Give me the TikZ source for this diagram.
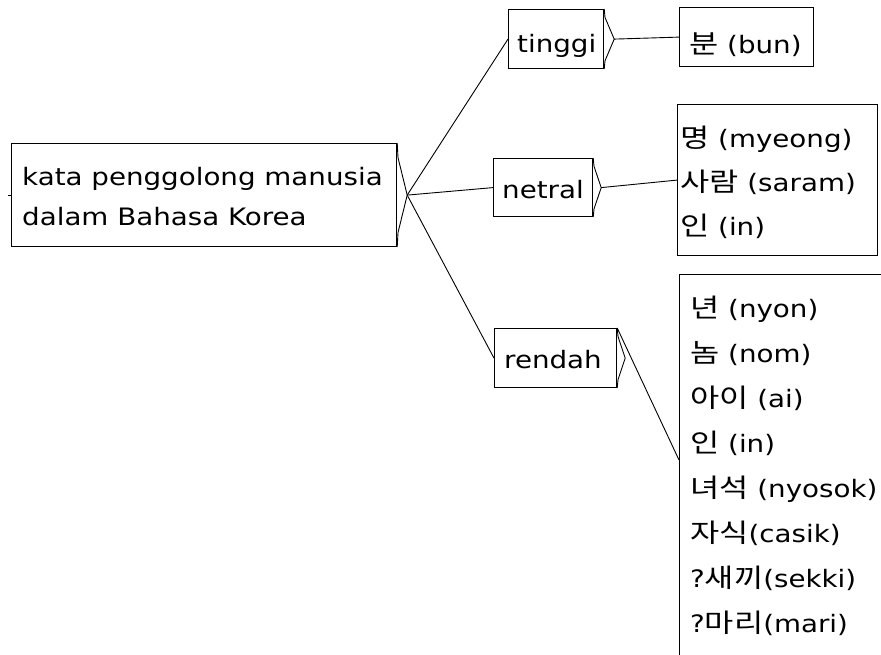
\documentclass[tikz,border=0pt]{standalone}
\usepackage{fontspec}
\setmainfont{DejaVu Sans}[FakeStretch=1.155]
\newfontfamily\krfont{Noto Sans CJK KR}[FakeStretch=1.22]
\newcommand\krtext[1]{{\krfont\fontsize{26}{30}\selectfont #1}}
\usetikzlibrary{calc}
\newcommand\bracketto[2]{%
  \coordinate (#1-tip) at ([xshift=#2]#1.east);
  \draw[link] (#1.north east) -- ([xshift=0.8pt]$(#1.north east)!0.14!(#1.south east)$) -- (#1-tip)
     -- ([xshift=0.8pt]$(#1.north east)!0.86!(#1.south east)$) -- (#1.south east);}
\begin{document}
\begin{tikzpicture}[x=1pt,y=-1pt,
  box/.style={draw, line width=1.2pt, inner sep=0pt, anchor=north west},
  txt/.style={anchor=base west, inner sep=0pt, font=\fontsize{24}{30}\selectfont},
  link/.style={line width=0.9pt}]
\useasboundingbox (0,0) rectangle (881,654);
\clip (0,0) rectangle (881,654);
% boxes
\node[box, minimum width=385pt, minimum height=103pt] (root) at (11,143) {};
\node[box, minimum width=95pt, minimum height=59pt] (tinggi) at (508,9) {};
\node[box, minimum width=99pt, minimum height=58pt] (netral) at (493,158) {};
\node[box, minimum width=122pt, minimum height=59pt] (rendah) at (494,328) {};
\node[box, minimum width=134pt, minimum height=59pt] (bun) at (679,7) {};
\node[box, minimum width=200pt, minimum height=151pt] (nlist) at (677,104) {};
\node[box, minimum width=230pt, minimum height=420pt] (rlist) at (679,274) {};
% brackets
\bracketto{root}{10pt}
\bracketto{tinggi}{10pt}
\bracketto{netral}{8pt}
\bracketto{rendah}{8pt}
% connectors
\draw[link] (root-tip) -- (tinggi.west);
\draw[link] (root-tip) -- (netral.west);
\draw[link] (root-tip) -- (rendah.west);
\draw[link] (tinggi-tip) -- (bun.west);
\draw[link] (netral-tip) -- (nlist.west);
\coordinate (rin) at ([yshift=-186pt]rlist.north west);
\draw[link] (rendah.north east) -- (rin);
\draw[link] (root.west) -- ++(-3,0);
% texts
\node[txt] (t1) at (22,185.5) {kata penggolong manusia};
\node[txt] (t2) at (22,225.5) {dalam Bahasa Korea};
\node[txt] (ttinggi) at (517,52) {tinggi};
\node[txt] (tbun) at (689,53) {\krtext{분} (bun)};
\node[txt] (tnetral) at (502,198) {netral};
\node[txt] (n1) at (680,147) {\krtext{명} (myeong)};
\node[txt] (n2) at (680,191) {\krtext{사람} (saram)};
\node[txt] (n3) at (680,235) {\krtext{인} (in)};
\node[txt] (trendah) at (504,368) {rendah};
\foreach \s [count=\i from 0] in {%
  {\krtext{년} (nyon)},
  {\krtext{놈} (nom)},
  {\krtext{아이} (ai)},
  {\krtext{인} (in)},
  {\krtext{녀석} (nyosok)},
  {\krtext{자식}(casik)},
  {?\krtext{새끼}(sekki)},
  {?\krtext{마리}(mari)}}
  \node[txt] (r\i) at (690,317+45.1*\i) {\s};
\end{tikzpicture}
\end{document}
